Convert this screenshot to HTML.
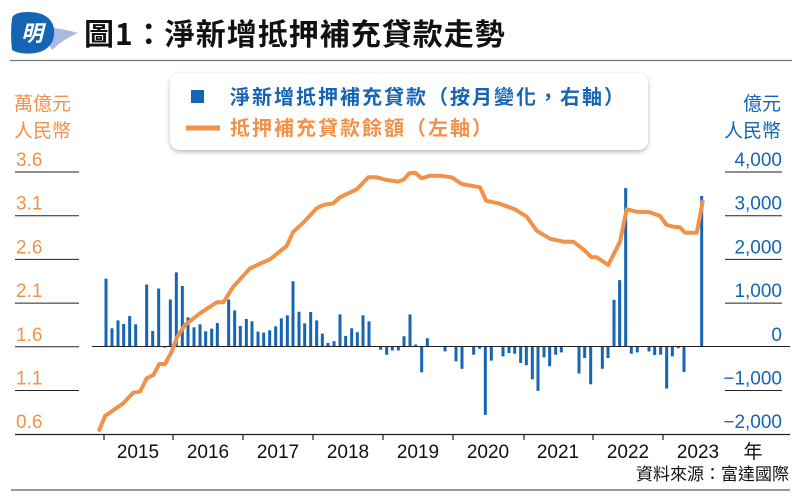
<!DOCTYPE html>
<html><head><meta charset="utf-8"><style>
html,body{margin:0;padding:0;background:#fff;}
svg{display:block;font-family:"Liberation Sans","Noto Sans CJK TC",sans-serif;}
</style></head><body>
<svg id="s" width="800" height="503" viewBox="0 0 800 503" xmlns="http://www.w3.org/2000/svg">
<defs><filter id="sh" x="-10%" y="-20%" width="120%" height="150%"><feDropShadow dx="0" dy="2" stdDeviation="2.5" flood-color="#000" flood-opacity="0.28"/></filter></defs>
<!-- logo -->
<path d="M40 26 Q70 30 78 33 Q62 40 52 50 Z" fill="#a9b9e6"/>
<path d="M12 18 Q14 12 28 12 Q50 12 54 28 Q56 46 40 52 Q22 56 12 50 Q10 34 12 18Z" fill="#1665b5"/>
<text x="32" y="41" font-size="22" font-weight="bold" fill="#fff" text-anchor="middle" font-style="italic" font-family="Noto Sans CJK TC,sans-serif">明</text>
<text x="84" y="45" font-size="30" font-weight="bold" fill="#111" letter-spacing="1" font-family="Noto Sans CJK TC,sans-serif">圖1：淨新增抵押補充貸款走勢</text>
<line x1="10" y1="60.5" x2="792" y2="60.5" stroke="#777" stroke-width="1.2"/>
<!-- legend -->
<rect x="170" y="73" width="478" height="77" rx="10" fill="#fff" filter="url(#sh)"/>
<rect x="191" y="90" width="13" height="13" fill="#1665b5"/>
<text x="230" y="104" font-size="20" font-weight="bold" fill="#1665b5" letter-spacing="2" font-family="Noto Sans CJK TC,sans-serif">淨新增抵押補充貸款（按月變化，右軸）</text>
<line x1="186" y1="128" x2="220" y2="128" stroke="#f0924a" stroke-width="5"/>
<text x="230" y="135" font-size="20" font-weight="bold" fill="#f0924a" letter-spacing="2" font-family="Noto Sans CJK TC,sans-serif">抵押補充貸款餘額（左軸）</text>
<!-- axis titles -->
<g font-size="19" fill="#f0924a" font-family="Noto Sans CJK TC,sans-serif"><text x="14" y="110">萬億元</text><text x="14" y="137">人民幣</text></g>
<g font-size="19" fill="#1665b5" font-family="Noto Sans CJK TC,sans-serif" text-anchor="end"><text x="781" y="110">億元</text><text x="781" y="137">人民幣</text></g>
<g id="grid"></g>
<g id="bars" fill="#1665b5"></g>
<line x1="92" y1="346.5" x2="790" y2="346.5" stroke="#222" stroke-width="1"/>
<line x1="92" y1="434.5" x2="790" y2="434.5" stroke="#222" stroke-width="1.2"/>
<line x1="11" y1="490" x2="790" y2="490" stroke="#333" stroke-width="1"/>
<polyline fill="none" stroke="#f0924a" stroke-width="4" stroke-linejoin="round" stroke-linecap="round" points="99.3,430 105,416 123.3,403.3 133.3,392.7 140,391.7 146.7,378.3 153.3,375 159.3,364 165,364 171.7,351.7 177.3,336.7 185,325 200,313.3 216.7,302.3 223.3,302.3 233.3,286.7 250,268.3 270,259.3 286.7,246 293.3,231.7 303.3,222.7 316.7,208.3 323.3,205 333.3,203.3 340,197.3 356.7,189.3 368.3,177.3 376.7,177.3 386.7,180 398.3,181.7 404,179.3 409.3,173.3 415,172.7 421.7,178.3 430,175.7 440,175.7 451.7,177.3 461.7,184 480,187.3 486,200.7 498.3,203.3 515,209.3 526.7,216.7 536.7,230.7 550,238.7 563.3,241.7 573.3,241.7 583.3,249.3 591.7,257.3 596.7,257.3 608.3,265 620,241.7 626.7,209.3 636.7,211.7 650,212.3 660,216 666.7,225 673.3,226.7 680,227.3 685,232.7 696.7,232.7 702.7,201.7"/>
<g id="ticks" stroke="#222" stroke-width="1.2"></g>
<g font-size="19" fill="#111" text-anchor="middle">
<text x="138" y="458">2015</text><text x="208" y="458">2016</text><text x="278" y="458">2017</text><text x="348" y="458">2018</text><text x="418" y="458">2019</text><text x="488" y="458">2020</text><text x="558" y="458">2021</text><text x="628" y="458">2022</text><text x="698" y="458">2023</text>
<text x="753" y="458" font-family="Noto Sans CJK TC,sans-serif">年</text></g>
<text x="789" y="480" font-size="17" fill="#111" text-anchor="end" font-family="Noto Sans CJK TC,sans-serif">資料來源：富達國際</text>
</svg>
<script>
var NS="http://www.w3.org/2000/svg",s=document.getElementById('s');
function el(p,t,a,txt){var e=document.createElementNS(NS,t);for(var k in a)e.setAttribute(k,a[k]);if(txt)e.textContent=txt;p.appendChild(e);return e;}
var g=document.getElementById('grid');
var L=["3.6","3.1","2.6","2.1","1.6","1.1","0.6"],R=["4,000","3,000","2,000","1,000","0","\u22121,000","\u22122,000"];
for(var i=0;i<7;i++){var y=172+i*43.7;
 if(i<6)el(g,'line',{x1:15,x2:79,y1:y,y2:y,stroke:'#222','stroke-width':1});else el(g,'line',{x1:15,x2:92,y1:434.5,y2:434.5,stroke:'#222','stroke-width':1.2});
 el(g,'text',{x:16,y:y-6,'font-size':19,fill:'#f0924a'},L[i]);
 if(i!=4&&i!=6)el(g,'line',{x1:725,x2:782,y1:y,y2:y,stroke:'#222','stroke-width':1});
 el(g,'text',{x:782,y:y-6,'font-size':19,fill:'#1665b5','text-anchor':'end'},R[i]);}
var b=document.getElementById('bars');
var z2=[[48,1553],[66,417],[84,598],[101,515],[119,697],[137,508],[170,1417],[188,356],[206,1326],[224,-15],[241,1076],[259,1697],[277,1386],[294,667],[312,439],[330,508],[347,348],[365,409],[382,538],[416,1076],[434,826],[451,470],[469,629],[486,576],[504,341],[521,318],[539,371],[557,462],[574,644],[592,712],[609,1492],[627,795],[644,530],[662,788],[680,598],[697,295],[714,83],[732,121],[750,735],[767,242],[785,417],[802,326],[819,712],[837,576],[872,-76],[890,-189],[907,-91],[925,-91],[942,235],[960,735],[977,45],[995,-591],[1012,189]];
var z3=[[45,-113],[78,-338],[96,-511],[131,-188],[149,-53],[166,-1564],[184,-323],[219,-226],[237,-150],[254,-165],[272,-376],[289,-429],[307,-752],[324,-1015],[342,-248],[359,-451],[377,-188],[394,-135],[447,-617],[464,-263],[482,-865],[517,-511],[534,-263],[552,1068],[569,1519],[587,3624],[604,-165],[622,-135],[657,-113],[674,-195],[692,-188],[710,-962],[727,-226],[745,-38],[762,-586],[815,3444]];
function bar(x,v){var h=Math.abs(v)*0.0437,y=v>0?346.5-h:346.5;el(b,'rect',{x:x-1.5,y:y,width:3,height:Math.max(h,1)});}
z2.forEach(function(d){bar(90+d[0]/3,d[1]);});
z3.forEach(function(d){bar(430+d[0]/3,d[1]);});
var t=document.getElementById('ticks');
[104,173,243,313,383,453,524,593,663].forEach(function(x){el(t,'line',{x1:x,x2:x,y1:434,y2:440});});
</script>
</body></html>
